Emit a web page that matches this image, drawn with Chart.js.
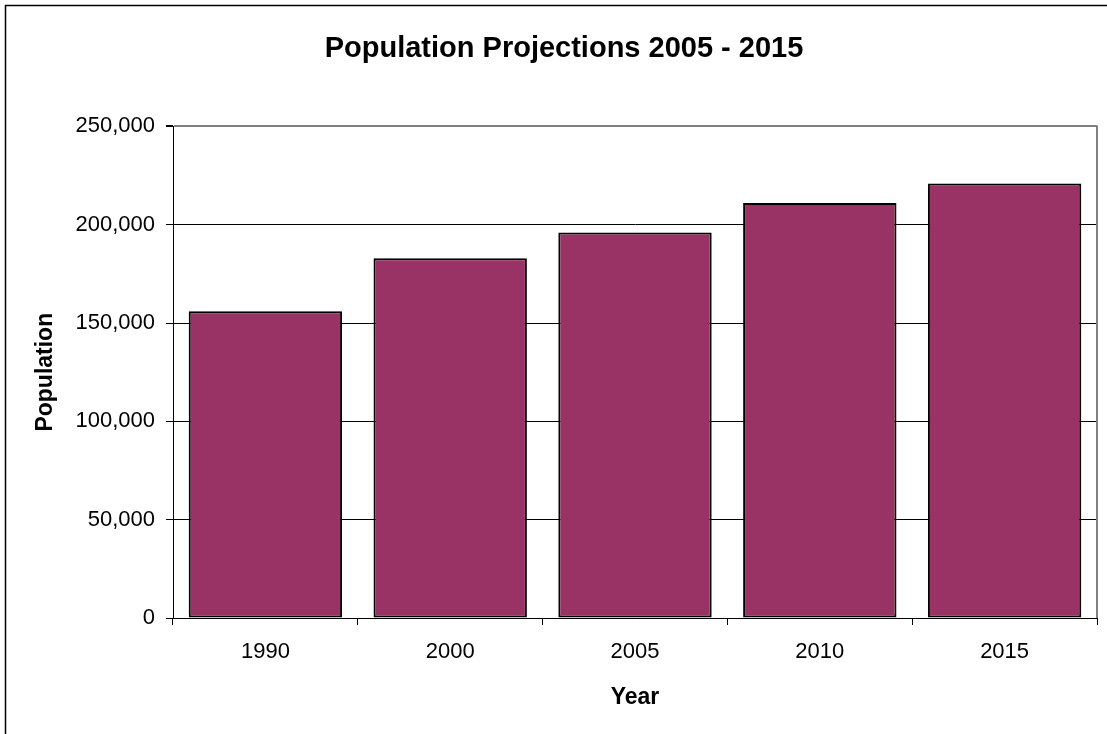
<!DOCTYPE html>
<html>
<head>
<meta charset="utf-8">
<title>Population Projections 2005 - 2015</title>
<script src="https://cdn.jsdelivr.net/npm/chart.js@4"></script>
<style>
  html, body { margin: 0; padding: 0; background: #fff; overflow: hidden; }
  #wrap { width: 1107px; height: 734px; position: relative; }
</style>
</head>
<body>
<div id="wrap"><canvas id="popChart" width="1107" height="734"></canvas></div>
<script>
const years = ["1990", "2000", "2005", "2010", "2015"];
const population = [156000, 183000, 196000, 211000, 221000];
const yTicks = [0, 50000, 100000, 150000, 200000, 250000];

const FONT = "'Liberation Sans', Arial, sans-serif";

// frame around the whole chart + gray plot-area border on the right
const framePlugin = {
  id: "frame",
  afterDraw(chart) {
    const ctx = chart.ctx;
    const area = chart.chartArea;
    ctx.save();
    ctx.strokeStyle = "#000";
    ctx.lineWidth = 1.5;
    ctx.strokeRect(5.5, 5.5, 1200, 1200);
    ctx.strokeStyle = "#808080";
    ctx.lineWidth = 2;
    ctx.beginPath();
    ctx.moveTo(area.right, area.top - 1);
    ctx.lineTo(area.right, area.bottom);
    ctx.stroke();
    ctx.restore();
  },
};

const ctx = document.getElementById("popChart").getContext("2d");
new Chart(ctx, {
  type: "bar",
  data: {
    labels: years,
    datasets: [
      {
        label: "Population",
        data: population,
        backgroundColor: "#993366",
        borderColor: "#000",
        borderWidth: 2,
        borderSkipped: false,
        barPercentage: 0.83,
        categoryPercentage: 1.0,
      },
    ],
  },
  options: {
    responsive: false,
    animation: false,
    layout: { padding: { left: 31, top: 0, right: 10, bottom: 0 } },
    scales: {
      x: {
        afterFit: (s) => { s.height = 116; },
        grid: {
          display: true,
          drawOnChartArea: false,
          drawTicks: true,
          tickLength: 7,
          tickColor: "#000",
          offset: true,
        },
        border: { display: true, color: "#000", width: 1 },
        ticks: {
          color: "#000",
          padding: 14,
          font: { family: FONT, size: 22 },
        },
        title: {
          display: true,
          text: "Year",
          color: "#000",
          padding: { top: 0, bottom: 23 },
          font: { family: FONT, size: 23, weight: "bold" },
        },
      },
      y: {
        min: 0,
        max: 250000,
        afterFit: (s) => { s.width = 142; },
        afterBuildTicks: (s) => { s.ticks = yTicks.map((v) => ({ value: v })); },
        grid: {
          color: (c) => (c.index === yTicks.length - 1 ? "#808080" : "#000"),
          lineWidth: (c) => (c.index === yTicks.length - 1 ? 2 : 1),
          tickLength: 7,
          tickColor: "#000",
        },
        border: { display: true, color: "#000", width: 1 },
        ticks: {
          color: "#000",
          padding: 11,
          font: { family: FONT, size: 22 },
          callback: (v) => Number(v).toLocaleString("en-US"),
        },
        title: {
          display: true,
          text: "Population",
          color: "#000",
          padding: { top: 1, bottom: 0 },
          font: { family: FONT, size: 23, weight: "bold" },
        },
      },
    },
    plugins: {
      legend: { display: false },
      tooltip: { enabled: false },
      title: {
        display: true,
        text: "Population Projections 2005 - 2015",
        color: "#000",
        padding: { top: 32, bottom: 59.6 },
        font: { family: FONT, size: 29, weight: "bold" },
      },
    },
  },
  plugins: [framePlugin],
});
</script>
</body>
</html>
